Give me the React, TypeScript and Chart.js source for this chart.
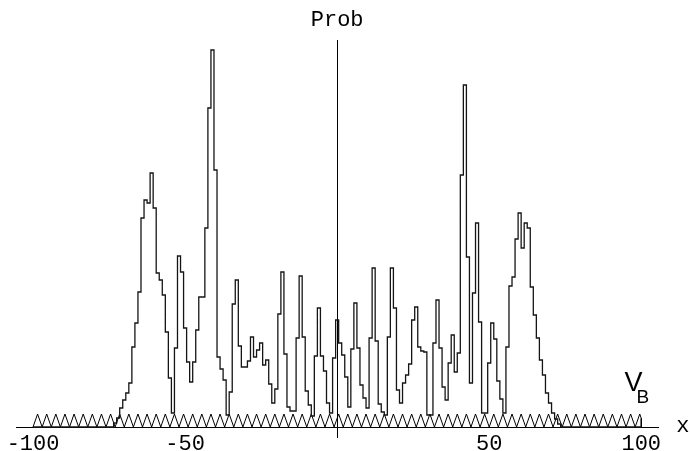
import React, { useEffect, useRef } from 'react';
import { Chart, registerables } from 'chart.js';

Chart.register(...registerables);

// ---------- data ----------
// Probability histogram, one bin per integer site, first bin centred at x = -73
const FIRST_BIN = -73;
const probValues = [
  4, 9, 19, 27, 34, 44, 80, 104, 135, 209, 227, 224, 254, // -73 .. -61
  219, 154, 147, 132, 95, 49, 14, 79, 171, 155, // -60 .. -51
  99, 65, 45, 65, 97, 130, 130, 199, 319, 377, // -50 .. -41
  257, 70, 58, 47, 12, 35, 123, 147, 81, 60, // -40 .. -31
  60, 66, 90, 70, 77, 84, 62, 67, 43, 24, // -30 .. -21
  38, 113, 155, 73, 20, 16, 16, 89, 151, 90, // -20 .. -11
  36, 22, 11, 71, 119, 71, 56, 24, 14, 69, // -10 .. -1
  107, // 0
  84, 72, 50, 20, 78, 124, 79, 42, 29, 19, // 1 .. 10
  89, 159, 86, 23, 15, 12, 90, 159, 119, 37, // 11 .. 20
  24, 44, 52, 63, 107, 120, 80, 76, 75, 12, // 21 .. 30
  12, 84, 127, 79, 40, 27, 64, 92, 55, 74, // 31 .. 40
  252, 342, 170, 44, 134, 204, 105, 14, 14, 64, // 41 .. 50
  104, 88, 46, 28, 14, 80, 141, 150, 188, 214, // 51 .. 60
  179, 204, 199, 140, 112, 89, 67, 52, 34, 24, // 61 .. 70
  14, 8, 3, // 71 .. 73
];

const X_SPAN = [-100, 100];
const xTickValues = [-100, -50, 0, 50, 100];
const xTickLabels = ['-100', '-50', '', '50', '100'];

// Periodic barrier potential V_B (triangle wave)
const VB_START = -100;
const VB_END = 100;
const VB_PERIOD = 3;
const VB_HEIGHT = 13;

const X_TITLE = 'x';
const Y_TITLE = 'Prob';
const VB_MAIN = 'V';
const VB_SUB = 'B';

// ---------- view ----------
const X_MIN = -105.6;
const X_MAX = 105.6;
const Y_MIN = -10;
const Y_MAX = 387;
const MONO = "'Courier New', 'Liberation Mono', monospace";
const SANS = "'Liberation Sans', Arial, sans-serif";

function buildHistogram() {
  const pts: { x: number; y: number }[] = [{ x: X_SPAN[0], y: 0 }];
  probValues.forEach((v, i) => pts.push({ x: FIRST_BIN + i - 0.5, y: v }));
  pts.push({ x: FIRST_BIN + probValues.length - 0.5, y: 0 });
  pts.push({ x: X_SPAN[1], y: 0 });
  return pts;
}

function buildVB() {
  const half = VB_PERIOD / 2;
  const pts: { x: number; y: number }[] = [];
  let i = 0;
  for (; VB_START + i * half <= VB_END + 1e-9; i++) {
    pts.push({ x: VB_START + i * half, y: i % 2 ? VB_HEIGHT : 0 });
  }
  const last = pts[pts.length - 1];
  if (last.x < VB_END) {
    const frac = (VB_END - last.x) / half;
    const yEnd = last.y === 0 ? VB_HEIGHT * frac : VB_HEIGHT * (1 - frac);
    pts.push({ x: VB_END, y: yEnd });
    pts.push({ x: VB_END, y: 0 });
  }
  return pts;
}

const labelsPlugin = {
  id: 'axisLabels',
  afterDraw(chart: any) {
    const { ctx, scales } = chart;
    const xs = scales.x;
    const ys = scales.y;
    ctx.save();
    ctx.fillStyle = '#000';
    ctx.font = `22px ${MONO}`;
    ctx.textAlign = 'center';
    ctx.textBaseline = 'alphabetic';
    ctx.fillText(Y_TITLE, xs.getPixelForValue(0), ys.top - 14);
    ctx.textAlign = 'left';
    ctx.fillText(X_TITLE, xs.right + 18, ys.getPixelForValue(0) + 5);
    // V_B label
    const vx = xs.getPixelForValue(94.5);
    const vy = ys.getPixelForValue(36.3);
    ctx.font = `27px ${SANS}`;
    ctx.fillText(VB_MAIN, vx, vy);
    ctx.font = `19px ${SANS}`;
    ctx.fillText(VB_SUB, vx + 12, vy + 12.5);
    ctx.restore();
  },
};

export default function App() {
  const canvasRef = useRef<HTMLCanvasElement | null>(null);

  useEffect(() => {
    const canvas = canvasRef.current;
    if (!canvas) return;
    const chart = new Chart(canvas, {
      type: 'line',
      data: {
        datasets: [
          {
            label: 'Prob',
            data: buildHistogram(),
            stepped: 'before',
            borderColor: '#141414',
            borderWidth: 1.3,
            pointRadius: 0,
            fill: false,
            tension: 0,
          },
          {
            label: 'V_B',
            data: buildVB(),
            borderColor: '#000',
            borderWidth: 1,
            pointRadius: 0,
            fill: false,
            tension: 0,
          },
        ],
      },
      options: {
        animation: false,
        responsive: false,
        devicePixelRatio: 1,
        parsing: false,
        normalized: true,
        layout: { padding: { left: 16, right: 31.7, top: 40, bottom: 14 } },
        plugins: {
          legend: { display: false },
          tooltip: { enabled: false },
          title: { display: false },
        },
        elements: { point: { radius: 0 } },
        scales: {
          x: {
            type: 'linear',
            min: X_MIN,
            max: X_MAX,
            position: { y: 0 } as any,
            grid: { display: false, drawTicks: false },
            border: { display: true, color: '#000', width: 1 },
            afterBuildTicks: (s: any) => {
              s.ticks = xTickValues.map((v) => ({ value: v }));
            },
            ticks: {
              autoSkip: false,
              maxRotation: 0,
              minRotation: 0,
              padding: 4,
              color: '#000',
              font: { family: MONO, size: 22 },
              callback: (v: any) => {
                const idx = xTickValues.indexOf(Number(v));
                return idx >= 0 ? xTickLabels[idx] : '';
              },
            },
          },
          y: {
            type: 'linear',
            min: Y_MIN,
            max: Y_MAX,
            position: { x: 0 } as any,
            grid: { display: false, drawTicks: false },
            border: { display: true, color: '#000', width: 1 },
            ticks: { display: false },
          },
        },
      },
      plugins: [labelsPlugin],
    } as any);
    return () => chart.destroy();
  }, []);

  return (
    <div style={{ position: 'fixed', left: 0, top: 0, width: 690, height: 451, background: '#fff' }}>
      <canvas ref={canvasRef} width={690} height={451} style={{ display: 'block' }} />
    </div>
  );
}
